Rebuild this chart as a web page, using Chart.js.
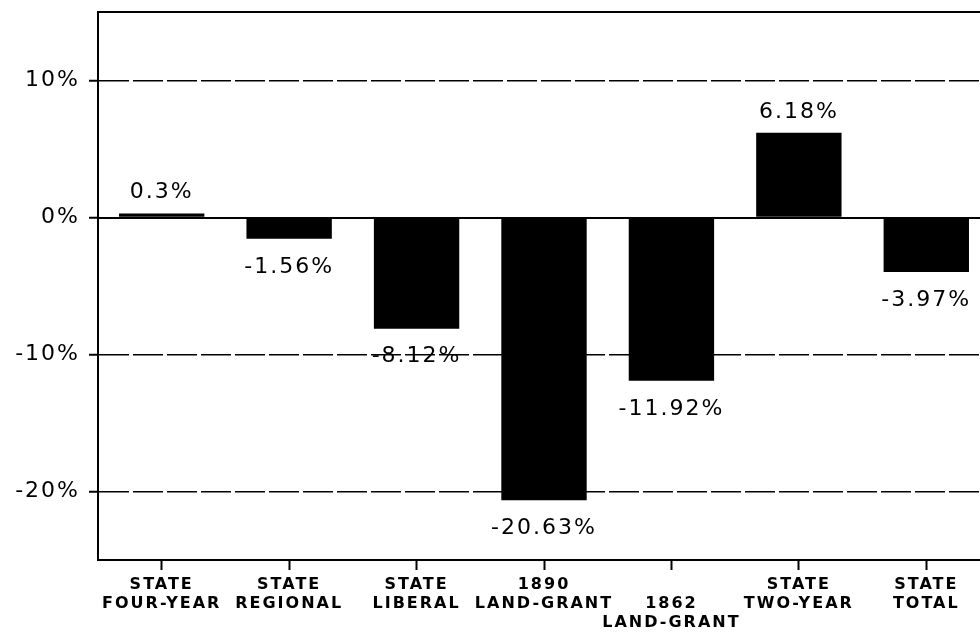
<!DOCTYPE html>
<html>
<head>
<meta charset="utf-8">
<script src="https://cdn.jsdelivr.net/npm/chart.js@4/dist/chart.umd.min.js"></script>
<style>
  html, body { margin: 0; padding: 0; background: #fff; overflow: hidden; }
  #wrap { width: 992px; height: 633px; position: relative; }
</style>
</head>
<body>
<div id="wrap"><canvas id="c" width="992" height="633"></canvas></div>
<script>
// ---- data ----
const categories = [
  ["STATE", "FOUR-YEAR"],
  ["STATE", "REGIONAL"],
  ["STATE", "LIBERAL"],
  ["1890", "LAND-GRANT"],
  ["", "1862", "LAND-GRANT"],
  ["STATE", "TWO-YEAR"],
  ["STATE", "TOTAL"]
];
const changeValues = [0.3, -1.56, -8.12, -20.63, -11.92, 6.18, -3.97];
const valueLabels = ["0.3%", "-1.56%", "-8.12%", "-20.63%", "-11.92%", "6.18%", "-3.97%"];
const yTickValues = [-20, -10, 0, 10];
const yTickLabels = ["-20%", "-10%", "0%", "10%"];
const yMin = -25, yMax = 15;

const letterSpacingPlugin = {
  id: 'spacing',
  beforeLayout(chart) { chart.ctx.letterSpacing = '2px'; },
  beforeDraw(chart) { chart.ctx.letterSpacing = '2px'; }
};

const valueLabelPlugin = {
  id: 'valueLabels',
  afterDatasetsDraw(chart) {
    const ctx = chart.ctx;
    const meta = chart.getDatasetMeta(0);
    ctx.save();
    ctx.letterSpacing = '2px';
    ctx.font = '22px "DejaVu Sans", sans-serif';
    ctx.fillStyle = '#000';
    ctx.textAlign = 'center';
    ctx.textBaseline = 'middle';
    meta.data.forEach((bar, i) => {
      const v = changeValues[i];
      const y = v >= 0 ? bar.y - 21 : bar.y + 28;
      ctx.fillText(valueLabels[i], bar.x, y);
    });
    ctx.restore();
  }
};

function setTicks(scale) {
  scale.ticks = yTickValues.map(v => ({ value: v }));
}
function noPad(scale) {
  scale.paddingTop = 0; scale.paddingBottom = 0;
  scale.paddingLeft = 0; scale.paddingRight = 0;
}

new Chart(document.getElementById('c'), {
  type: 'bar',
  data: {
    labels: categories,
    datasets: [{
      data: changeValues,
      backgroundColor: '#000',
      borderWidth: 0,
      barPercentage: 0.67,
      categoryPercentage: 1.0,
      xAxisID: 'x',
      yAxisID: 'y'
    }]
  },
  options: {
    responsive: false,
    animation: false,
    devicePixelRatio: 1,
    layout: { padding: { top: 12, right: 2, bottom: 0, left: 0 } },
    plugins: { legend: { display: false }, tooltip: { enabled: false } },
    scales: {
      x: {
        type: 'category',
        position: 'bottom',
        grid: { display: true, offset: false, drawOnChartArea: false, drawTicks: true, tickLength: 10, color: '#000', tickWidth: 2 },
        border: { display: true, color: '#000', width: 2 },
        ticks: {
          color: '#000', padding: 5, maxRotation: 0, autoSkip: false,
          font: { family: '"DejaVu Sans", sans-serif', size: 16, weight: 'bold', lineHeight: 1.2 }
        },
        afterFit(scale) { scale.height = 73; noPad(scale); }
      },
      xTop: {
        type: 'category',
        position: 'top',
        labels: categories,
        grid: { display: false, drawTicks: false },
        border: { display: true, color: '#000', width: 2 },
        ticks: { display: false },
        afterFit(scale) { scale.height = 0; noPad(scale); }
      },
      y: {
        type: 'linear',
        position: 'left',
        min: yMin, max: yMax,
        afterBuildTicks: setTicks,
        grid: {
          display: true,
          drawOnChartArea: true,
          drawTicks: true,
          tickLength: 9,
          lineWidth: 1.5,
          tickWidth: 2,
          tickColor: '#000',
          color: (c) => (c.tick && c.tick.value === 0) ? 'rgba(0,0,0,0)' : '#000'
        },
        border: { display: true, color: '#000', width: 2, dash: [30, 4] },
        ticks: {
          color: '#000',
          padding: 9,
          font: { family: '"DejaVu Sans", sans-serif', size: 22 },
          callback: (v) => {
            const i = yTickValues.indexOf(v);
            return i >= 0 ? yTickLabels[i] : '';
          }
        },
        afterFit(scale) { scale.width = 98; noPad(scale); }
      },
      yZero: {
        type: 'linear',
        position: 'left',
        min: yMin, max: yMax,
        afterBuildTicks: setTicks,
        grid: {
          display: true,
          drawTicks: false,
          lineWidth: 2,
          color: (c) => (c.tick && c.tick.value === 0) ? '#000' : 'rgba(0,0,0,0)'
        },
        border: { display: false },
        ticks: { display: false },
        afterFit(scale) { scale.width = 0; noPad(scale); }
      }
    }
  },
  plugins: [letterSpacingPlugin, valueLabelPlugin]
});
</script>
</body>
</html>
